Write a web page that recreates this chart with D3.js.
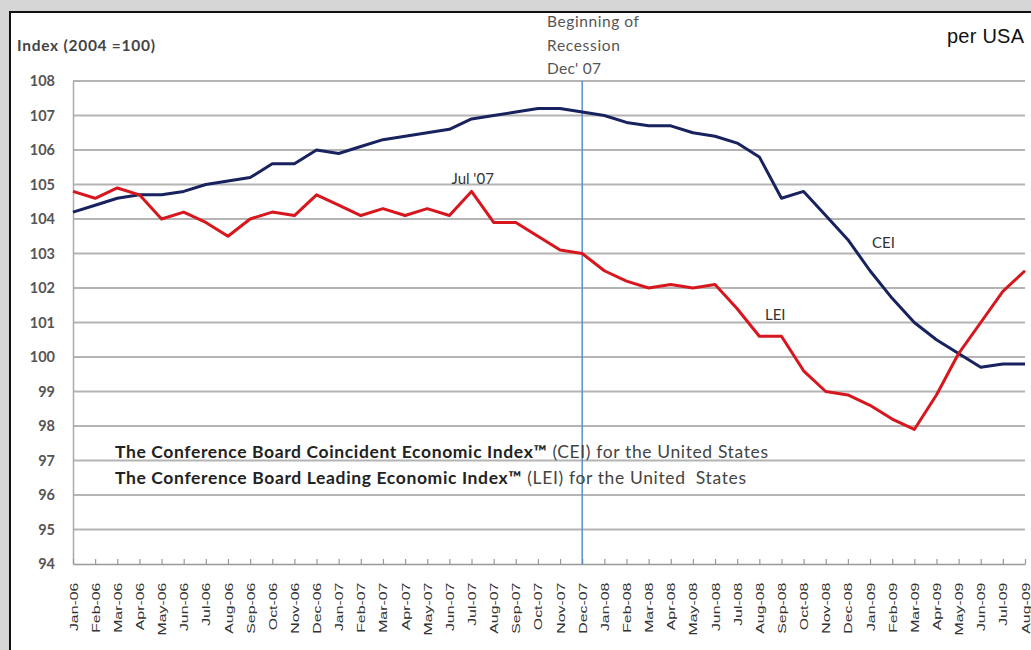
<!DOCTYPE html>
<html>
<head>
<meta charset="utf-8">
<script src="https://cdn.jsdelivr.net/npm/d3@7"></script>
<style>
  body { margin: 0; background: #d5d5d5; }
  svg { display: block; }
</style>
</head>
<body>
<svg id="chart" width="1031" height="650"></svg>
<script>
// Monthly categories, Jan-06 .. Aug-09
const months = [
  "Jan-06","Feb-06","Mar-06","Apr-06","May-06","Jun-06","Jul-06","Aug-06","Sep-06","Oct-06","Nov-06","Dec-06",
  "Jan-07","Feb-07","Mar-07","Apr-07","May-07","Jun-07","Jul-07","Aug-07","Sep-07","Oct-07","Nov-07","Dec-07",
  "Jan-08","Feb-08","Mar-08","Apr-08","May-08","Jun-08","Jul-08","Aug-08","Sep-08","Oct-08","Nov-08","Dec-08",
  "Jan-09","Feb-09","Mar-09","Apr-09","May-09","Jun-09","Jul-09","Aug-09"
];

// Coincident Economic Index (CEI)
const cei = [
  104.2,104.4,104.6,104.7,104.7,104.8,105.0,105.1,105.2,105.6,105.6,106.0,
  105.9,106.1,106.3,106.4,106.5,106.6,106.9,107.0,107.1,107.2,107.2,107.1,
  107.0,106.8,106.7,106.7,106.5,106.4,106.2,105.8,104.6,104.8,104.1,103.4,
  102.5,101.7,101.0,100.5,100.1,99.7,99.8,99.8
];

// Leading Economic Index (LEI)
const lei = [
  104.8,104.6,104.9,104.7,104.0,104.2,103.9,103.5,104.0,104.2,104.1,104.7,
  104.4,104.1,104.3,104.1,104.3,104.1,104.8,103.9,103.9,103.5,103.1,103.0,
  102.5,102.2,102.0,102.1,102.0,102.1,101.4,100.6,100.6,99.6,99.0,98.9,
  98.6,98.2,97.9,98.9,100.1,101.0,101.9,102.5
];

const yTicks = [94,95,96,97,98,99,100,101,102,103,104,105,106,107,108];
const recessionMonth = "Dec-07";
const peakMonth = "Jul-07";

const svg = d3.select("#chart");

// Adjust a text element's letter spacing so it spans the given width
function fitWidth(sel, width) {
  const node = sel.node();
  const len = node.getComputedTextLength();
  const n = node.textContent.length;
  if (n > 1) sel.attr("letter-spacing", ((width - len) / (n - 1)).toFixed(3));
}

// Framed white panel
svg.append("rect")
  .attr("x", 10).attr("y", 12)
  .attr("width", 1040).attr("height", 660)
  .attr("fill", "#ffffff")
  .attr("stroke", "#111").attr("stroke-width", 2);

const plot = { left: 73, right: 1025, top: 81, bottom: 564 };

const x = d3.scalePoint().domain(months).range([plot.left, plot.right]);
const y = d3.scaleLinear().domain([94, 108]).range([plot.bottom, plot.top]);

// Horizontal gridlines
svg.append("g")
  .selectAll("line")
  .data(yTicks.filter(d => d > 94))
  .join("line")
  .attr("x1", plot.left).attr("x2", plot.right)
  .attr("y1", d => y(d)).attr("y2", d => y(d))
  .attr("stroke", "#b4b4b4").attr("stroke-width", 2);

// Y axis
const yAxis = svg.append("g")
  .attr("transform", `translate(${plot.left},0)`)
  .call(d3.axisLeft(y).tickValues(yTicks).tickSize(0).tickPadding(18));
yAxis.select(".domain").attr("stroke", "#aaa").attr("stroke-width", 1.5);
yAxis.selectAll("text")
  .attr("font-family", "Lato, sans-serif")
  .attr("font-size", 14.5).attr("font-weight", 700)
  .attr("fill", "#555");

// X axis with inward ticks, labels stretched along their length
const xAxis = svg.append("g")
  .attr("transform", `translate(0,${plot.bottom})`)
  .call(d3.axisBottom(x).tickSize(-5).tickPadding(0).tickSizeOuter(0));
xAxis.select(".domain").attr("stroke", "#999").attr("stroke-width", 1.5);
xAxis.selectAll(".tick line").attr("stroke", "#999").attr("stroke-width", 1.2);
xAxis.selectAll("text")
  .attr("transform", "rotate(-90) scale(1.38,1)")
  .attr("text-anchor", "end")
  .attr("x", -13.5).attr("y", 0).attr("dy", "0.35em")
  .attr("font-family", "Liberation Sans, Arial, sans-serif")
  .attr("font-size", 11.5)
  .attr("fill", "#333");

// Recession marker
svg.append("line")
  .attr("x1", x(recessionMonth)).attr("x2", x(recessionMonth))
  .attr("y1", plot.top).attr("y2", plot.bottom)
  .attr("stroke", "#5b8fd0").attr("stroke-width", 1.5);

[["Beginning of", 92], ["Recession", 73], ["Dec' 07", 54]].forEach(([t, w], i) => {
  const el = svg.append("text")
    .attr("x", 547).attr("y", 27 + i * 23.5)
    .attr("font-family", "Lato, sans-serif")
    .attr("font-size", 15.5)
    .attr("fill", "#555")
    .text(t);
  fitWidth(el, w);
});

// Series lines
const line = d3.line()
  .x((d, i) => x(months[i]))
  .y(d => y(d));

svg.append("path").datum(cei)
  .attr("d", line).attr("fill", "none")
  .attr("stroke", "#17225e").attr("stroke-width", 3)
  .attr("stroke-linejoin", "round");

svg.append("path").datum(lei)
  .attr("d", line).attr("fill", "none")
  .attr("stroke", "#d7161e").attr("stroke-width", 3)
  .attr("stroke-linejoin", "round");

// Annotations
const ann = (t, xx, yy) => svg.append("text")
  .attr("x", xx).attr("y", yy)
  .attr("font-family", "Lato, sans-serif").attr("font-size", 15)
  .attr("fill", "#333").text(t);
ann("Jul '07", x(peakMonth) - 20, y(lei[months.indexOf(peakMonth)]) - 7);
ann("CEI", 872, 248);
ann("LEI", 765, 320);

// Axis title and corner label
const title = svg.append("text")
  .attr("x", 17).attr("y", 51)
  .attr("font-family", "Lato, sans-serif")
  .attr("font-size", 15.5).attr("font-weight", 700)
  .attr("fill", "#444")
  .text("Index (2004 =100)");
fitWidth(title, 138);

const corner = svg.append("text")
  .attr("x", 947).attr("y", 43)
  .attr("font-family", "Liberation Sans Narrow, Liberation Sans, sans-serif")
  .attr("font-size", 20)
  .attr("fill", "#111")
  .text("per USA");
fitWidth(corner, 77);

// Series description lines
const legend = [
  { bold: "The Conference Board Coincident Economic Index\u2122", rest: " (CEI) for the United States", width: 653 },
  { bold: "The Conference Board Leading Economic Index\u2122", rest: " (LEI) for the United  States", width: 631 }
];
legend.forEach((d, i) => {
  const t = svg.append("text")
    .attr("x", 115).attr("y", 458 + i * 26)
    .attr("font-family", "Lato, sans-serif")
    .attr("font-size", 17.5)
    .attr("fill", "#222")
    .attr("xml:space", "preserve");
  t.append("tspan").attr("font-weight", 700).text(d.bold);
  t.append("tspan").attr("font-weight", 400).attr("fill", "#444").text(d.rest);
  fitWidth(t, d.width);
});
</script>
</body>
</html>
